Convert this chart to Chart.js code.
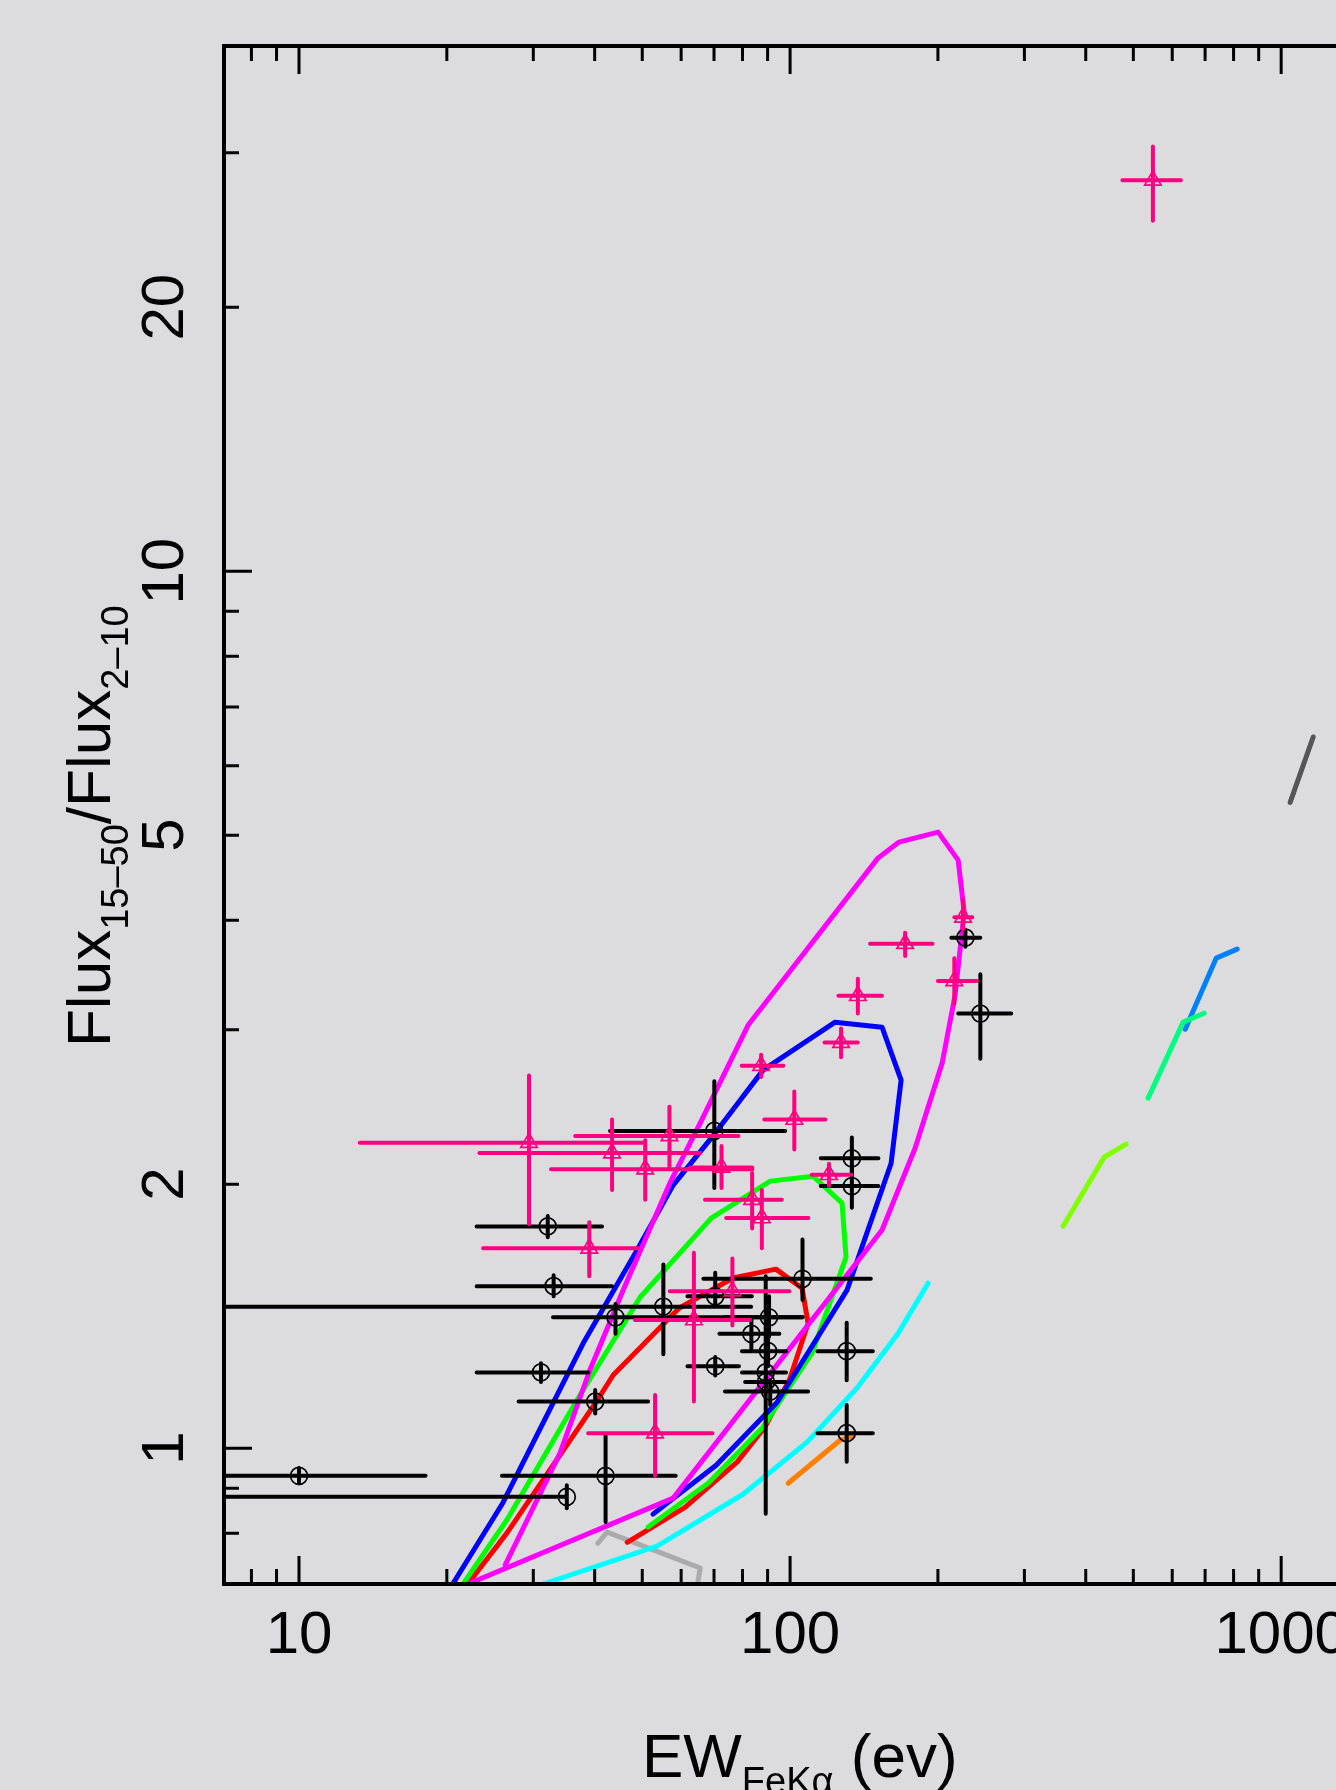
<!DOCTYPE html>
<html>
<head>
<meta charset="utf-8">
<script src="https://cdn.jsdelivr.net/npm/chart.js@4.4.0/dist/chart.umd.min.js"></script>
<style>
  html, body { margin: 0; padding: 0; background: #dcdcde; overflow: hidden; width: 1336px; height: 1790px; }
  canvas { display: block; }
</style>
</head>
<body>
<canvas id="chart" width="1460" height="1790" style="width:1460px;height:1790px"></canvas>
<script>
// ---- Sample with circles (black): EW of Fe Kα line (eV) and hard-band flux ratio ----
const blackEW      = [32.1, 33.0, 44.1, 31.1, 40.1, 10.0, 35.1, 42.1, 55.2, 70.1, 70.4, 106, 70.4, 133.6, 133.6, 90.6, 83.4, 90.2, 89.2, 89.3, 91.1, 130.4, 130.4, 244, 227.5];
const blackEWLo    = [23.0, 23.0, 32.9, 23.0, 28.0, 5, 5, 25.9, 5, 43.0, 61.8, 66.6, 61.8, 115.5, 115.5, 73.7, 71.8, 79.8, 79.8, 81.0, 73.7, 113.7, 113.7, 220, 213];
const blackEWHi    = [41.4, 43.4, 106, 38.8, 51.4, 18.1, 35.1, 58.5, 83.3, 97.7, 78.7, 146, 83.6, 151.3, 151.3, 106, 95.1, 98.1, 98.1, 97.7, 108.8, 147.4, 147.4, 282, 244];
const blackRatio   = [1.79, 1.53, 1.41, 1.22, 1.13, 0.93, 0.88, 0.93, 1.45, 2.30, 1.24, 1.56, 1.49, 2.14, 1.99, 1.41, 1.35, 1.29, 1.22, 1.19, 1.16, 1.29, 1.04, 3.13, 3.82];
const blackRatioLo = [1.74, 1.49, 1.35, 1.19, 1.095, 0.912, 0.854, 0.824, 1.28, 1.98, 1.21, 1.475, 1.46, 2.05, 1.88, 1.34, 1.30, 1.24, 0.842, 1.16, 1.12, 1.195, 0.965, 2.78, 3.73];
const blackRatioHi = [1.84, 1.575, 1.46, 1.25, 1.165, 0.949, 0.907, 1.035, 1.62, 2.62, 1.27, 1.73, 1.585, 2.26, 2.10, 1.49, 1.40, 1.35, 1.57, 1.22, 1.195, 1.39, 1.12, 3.47, 3.90];

// ---- Sample with triangles (pink) ----
const pinkEW      = [29.4, 43.4, 50.7, 56.8, 72.5, 87.3, 102, 127, 137.4, 171.5, 225, 216, 120, 83.7, 87.6, 39.0, 63.7, 76.3, 53.1, 548];
const pinkEWLo    = [13.3, 23.3, 32.6, 36.5, 62.6, 79.7, 88.6, 117.5, 125.4, 145.5, 216, 200, 110.7, 67.1, 74.1, 23.7, 48.3, 56.9, 38.8, 475];
const pinkEWHi    = [50.2, 65.6, 83.8, 78.5, 83.8, 96.9, 118, 137.4, 153.8, 195, 235, 240, 133.2, 96.2, 109, 49.1, 82.9, 99.7, 69.5, 625];
const pinkRatio   = [2.23, 2.17, 2.08, 2.27, 2.09, 2.73, 2.37, 2.90, 3.28, 3.76, 4.03, 3.41, 2.05, 1.92, 1.83, 1.69, 1.40, 1.51, 1.04, 27.9];
const pinkRatioLo = [1.80, 1.97, 1.92, 2.09, 1.98, 2.65, 2.19, 2.79, 3.13, 3.64, 3.90, 3.21, 1.99, 1.78, 1.69, 1.57, 1.13, 1.38, 0.93, 25.1];
const pinkRatioHi = [2.66, 2.37, 2.245, 2.45, 2.21, 2.81, 2.55, 3.01, 3.43, 3.87, 4.22, 3.62, 2.11, 2.06, 1.97, 1.81, 1.67, 1.645, 1.15, 30.5];

// ---- Model tracks ----
const magentaEW    = [21.3, 57.8, 153.9, 179.7, 204, 216.8, 226.2, 219.9, 200.2, 166.7, 151.1, 82.1, 65.6, 56.9, 45.7, 39.1, 34.0, 26.3];
const magentaRatio = [0.694, 0.877, 1.773, 2.198, 2.748, 3.286, 4.085, 4.683, 5.04, 4.91, 4.71, 3.035, 2.348, 2.005, 1.514, 1.227, 0.987, 0.736];
const blueEW       = [20.5, 26.0, 37.9, 48.8, 57.8, 70.4, 88.1, 123.5, 153.9, 168.3, 160.6, 130.6, 94.1, 70.7, 52.6];
const blueRatio    = [0.698, 0.866, 1.317, 1.682, 1.995, 2.287, 2.698, 3.06, 3.02, 2.628, 2.113, 1.514, 1.128, 0.956, 0.841];
const greenEW      = [21.5, 26.5, 36.8, 49.5, 69.1, 91.1, 111.4, 127.6, 130.0, 110.9, 87.7, 68.1, 51.4];
const greenRatio   = [0.698, 0.828, 1.134, 1.486, 1.829, 2.016, 2.042, 1.903, 1.651, 1.284, 1.054, 0.912, 0.813];
const redEW        = [21.9, 26.5, 40.5, 43.6, 59.4, 76.5, 93.6, 105.8, 108.8, 100, 88.9, 78.0, 61.1, 46.6];
const redRatio     = [0.696, 0.800, 1.134, 1.211, 1.444, 1.563, 1.600, 1.522, 1.388, 1.202, 1.057, 0.964, 0.856, 0.781];
const cyanEW       = [31.4, 53.6, 80.2, 108.3, 136.9, 166.0, 191.0];
const cyanRatio    = [0.700, 0.773, 0.886, 1.016, 1.171, 1.352, 1.542];
const orangeEW     = [99.1, 126.4, 134.4];
const orangeRatio  = [0.912, 1.021, 1.032];
const greyEW       = [40.6, 42.4, 65.6, 64.7];
const greyRatio    = [0.779, 0.802, 0.730, 0.696];
const limeEW       = [359.7, 436.0, 483.4];
const limeRatio    = [1.791, 2.147, 2.222];
const springEW     = [535.9, 631.6, 696.9];
const springRatio  = [2.507, 3.06, 3.133];
const azureEW      = [637.6, 737.3, 813.6];
const azureRatio   = [3.004, 3.62, 3.707];
const darkEW       = [1043, 1162];
const darkRatio    = [5.45, 6.47];

// ---- Axis labels ----
const xTickLabels = [10, 100, 1000];
const yTickLabels = [1, 2, 5, 10, 20];

const FONT = '"Liberation Sans", Arial, Helvetica, sans-serif';
const PINK = '#ff0080';

const toPoints = (xs, ys) => xs.map((v, i) => ({ x: v, y: ys[i] }));
const toErrors = (xl, xh, yl, yh) => xl.map((v, i) => ({ xlo: v, xhi: xh[i], ylo: yl[i], yhi: yh[i] }));

function track(xs, ys, color) {
  return {
    type: 'scatter',
    data: toPoints(xs, ys),
    showLine: true,
    borderColor: color,
    borderWidth: 5,
    borderCapStyle: 'round',
    borderJoinStyle: 'round',
    pointRadius: 0,
    tension: 0,
    clip: 0,
    order: 3
  };
}

const datasets = [
  track(magentaEW, magentaRatio, '#ff00ff'),
  track(blueEW, blueRatio, '#0000ff'),
  track(greenEW, greenRatio, '#00ff00'),
  track(redEW, redRatio, '#ff0000'),
  track(cyanEW, cyanRatio, '#00ffff'),
  track(orangeEW, orangeRatio, '#ff8000'),
  track(greyEW, greyRatio, '#aaaaaa'),
  track(limeEW, limeRatio, '#80ff00'),
  track(springEW, springRatio, '#00ff80'),
  track(azureEW, azureRatio, '#0080ff'),
  track(darkEW, darkRatio, '#555555'),
  {
    type: 'scatter',
    data: toPoints(blackEW, blackRatio),
    errors: toErrors(blackEWLo, blackEWHi, blackRatioLo, blackRatioHi),
    borderColor: '#000000',
    pointStyle: 'circle',
    pointRadius: 8.5,
    pointBorderWidth: 1.7,
    pointBackgroundColor: 'rgba(0,0,0,0)',
    pointBorderColor: '#000000',
    order: 2
  },
  {
    type: 'scatter',
    data: toPoints(pinkEW, pinkRatio),
    errors: toErrors(pinkEWLo, pinkEWHi, pinkRatioLo, pinkRatioHi),
    borderColor: PINK,
    pointStyle: 'triangle',
    pointRadius: 9.5,
    pointBorderWidth: 1.7,
    pointBackgroundColor: 'rgba(0,0,0,0)',
    pointBorderColor: PINK,
    order: 1
  }
];

// Error bars, drawn right before each marker set
const errorBars = {
  id: 'errorBars',
  beforeDatasetDraw(chart, args) {
    const ds = chart.data.datasets[args.index];
    if (!ds.errors) return;
    const { ctx, chartArea: a, scales: { x, y } } = chart;
    ctx.save();
    ctx.beginPath();
    ctx.rect(a.left, a.top, a.right - a.left, a.bottom - a.top);
    ctx.clip();
    ctx.strokeStyle = ds.borderColor;
    ctx.lineWidth = 4;
    ctx.lineCap = 'round';
    ds.data.forEach((p, i) => {
      const e = ds.errors[i];
      const px = x.getPixelForValue(p.x);
      const py = y.getPixelForValue(p.y);
      ctx.beginPath();
      ctx.moveTo(x.getPixelForValue(e.xlo), py);
      ctx.lineTo(x.getPixelForValue(e.xhi), py);
      ctx.moveTo(px, y.getPixelForValue(e.ylo));
      ctx.lineTo(px, y.getPixelForValue(e.yhi));
      ctx.stroke();
    });
    ctx.restore();
  }
};

// Background, frame, inward ticks, rotated labels and titles with subscripts
const frame = {
  id: 'frame',
  beforeDraw(chart) {
    const { ctx, width, height } = chart;
    ctx.save();
    ctx.fillStyle = '#dcdcde';
    ctx.fillRect(0, 0, width, height);
    ctx.restore();
  },
  afterDraw(chart) {
    const { ctx, chartArea: a, scales: { x, y } } = chart;
    ctx.save();
    ctx.strokeStyle = '#000';
    ctx.fillStyle = '#000';
    ctx.lineCap = 'butt';

    // ticks
    ctx.lineWidth = 3;
    ctx.beginPath();
    for (let k = 0; k <= 3; k++) {
      for (let m = 1; m <= 9; m++) {
        const v = m * Math.pow(10, k);
        if (v <= x.min || v >= x.max) continue;
        const px = x.getPixelForValue(v);
        const len = m === 1 ? 28 : 15;
        ctx.moveTo(px, a.bottom); ctx.lineTo(px, a.bottom - len);
        ctx.moveTo(px, a.top); ctx.lineTo(px, a.top + len);
      }
    }
    for (let k = -1; k <= 1; k++) {
      for (let m = 1; m <= 9; m++) {
        const v = m * Math.pow(10, k);
        if (v <= y.min * 1.0001 || v >= y.max) continue;
        const py = y.getPixelForValue(v);
        const len = m === 1 ? 28 : 15;
        ctx.moveTo(a.left, py); ctx.lineTo(a.left + len, py);
        ctx.moveTo(a.right, py); ctx.lineTo(a.right - len, py);
      }
    }
    ctx.stroke();

    // frame
    ctx.lineWidth = 4;
    ctx.strokeRect(a.left, a.top, a.right - a.left, a.bottom - a.top);

    // x tick labels
    ctx.font = '60px ' + FONT;
    ctx.textAlign = 'center';
    ctx.textBaseline = 'alphabetic';
    xTickLabels.forEach(v => ctx.fillText(String(v), x.getPixelForValue(v), a.bottom + 69));

    // y tick labels, rotated
    yTickLabels.forEach(v => {
      ctx.save();
      ctx.translate(a.left - 41, y.getPixelForValue(v));
      ctx.rotate(-Math.PI / 2);
      ctx.fillText(String(v), 0, 0);
      ctx.restore();
    });

    // text with subscripts along the current baseline
    const richText = (parts, big, small, drop) => {
      let cx = 0;
      ctx.textAlign = 'left';
      parts.forEach(([t, sub]) => {
        ctx.font = (sub ? small : big) + 'px ' + FONT;
        ctx.fillText(t, cx, sub ? drop : 0);
        cx += ctx.measureText(t).width;
      });
    };

    // x title
    ctx.save();
    ctx.translate(642, a.bottom + 193);
    richText([['EW', false], ['FeKα', true], [' (ev)', false]], 62, 38, 17);
    ctx.restore();

    // y title
    ctx.save();
    ctx.translate(110, 1047);
    ctx.rotate(-Math.PI / 2);
    richText([['Flux', false], ['15–50', true], ['/Flux', false], ['2–10', true]], 62, 38, 18);
    ctx.restore();

    ctx.restore();
  }
};

new Chart(document.getElementById('chart'), {
  type: 'scatter',
  data: { datasets },
  options: {
    responsive: false,
    animation: false,
    events: [],
    layout: { padding: { left: 224, top: 46, right: 31, bottom: 206 } },
    plugins: { legend: { display: false }, tooltip: { enabled: false } },
    scales: {
      x: { type: 'logarithmic', min: 7.035, max: 2000, display: false },
      y: { type: 'logarithmic', min: 0.7, max: 39.7, display: false }
    }
  },
  plugins: [errorBars, frame]
});
</script>
</body>
</html>
